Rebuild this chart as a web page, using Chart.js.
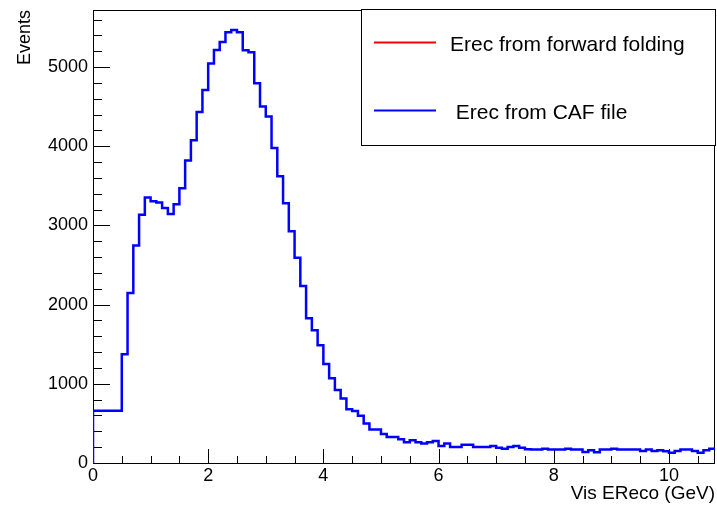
<!DOCTYPE html>
<html>
<head>
<meta charset="utf-8">
<script src="https://cdn.jsdelivr.net/npm/chart.js@4/dist/chart.umd.min.js"></script>
<style>
  html, body { margin: 0; padding: 0; background: #fff; }
  #c { display: block; }
</style>
</head>
<body>
<canvas id="c" width="717" height="505"></canvas>
<script>
// histogram binning: one wide bin 0-0.5, then 0.1 GeV bins up to 10.8
var firstBin = [0, 0.5];
var binWidth = 0.1;
var counts = [
  660,
  1373, 2147, 2745, 3136, 3351, 3304, 3288, 3220, 3144, 3266,
  3468, 3820, 4074, 4432, 4710, 5043, 5215, 5316, 5438, 5467,
  5438, 5211, 5186, 4794, 4500, 4374, 3977, 3620, 3279, 2925,
  2593, 2235, 1827, 1676, 1486, 1250, 1069, 922, 813, 678,
  657, 598, 500, 422, 422, 365, 328, 328, 299, 261,
  286, 261, 245, 261, 278, 215, 245, 202, 202, 232,
  232, 202, 202, 202, 215, 194, 181, 202, 215, 194,
  173, 169, 169, 181, 169, 169, 169, 181, 169, 169,
  139, 160, 135, 169, 169, 181, 169, 169, 169, 169,
  152, 169, 152, 160, 147, 131, 152, 169, 169, 152,
  131, 160, 181
];
var xTicks = [0, 2, 4, 6, 8, 10];
var yTicks = [0, 1000, 2000, 3000, 4000, 5000];
var seriesLabels = ["Erec from forward folding", " Erec from CAF file"];
var seriesColors = ["#ff0000", "#0000ff"];
var xTitle = "Vis EReco (GeV)";
var yTitle = "Events";

var FONT = "'Liberation Sans', Arial, Helvetica, sans-serif";

// bin edges
var edges = [firstBin[0], firstBin[1]];
for (var i = 1; i <= counts.length - 1; i++) {
  edges.push(Math.round((firstBin[1] + i * binWidth) * 10) / 10);
}

// outline points: each count at its bin's lower edge, drawn with
// stepped 'before' (horizontal first, then vertical)
var histPoints = [{x: edges[0], y: 0}];
for (var i = 0; i < counts.length; i++) {
  histPoints.push({x: edges[i], y: counts[i]});
}
histPoints.push({x: edges[counts.length], y: counts[counts.length - 1]});

// ROOT-like frame with inward ticks
var rootFrame = {
  id: 'rootFrame',
  beforeDatasetsDraw: function(chart) {
    var ctx = chart.ctx, a = chart.chartArea;
    var xs = chart.scales.x, ys = chart.scales.y;
    ctx.save();
    ctx.strokeStyle = '#000';
    ctx.lineWidth = 1;
    ctx.strokeRect(a.left + 0.5, a.top + 0.5, a.right - a.left - 1, a.bottom - a.top);
    ctx.beginPath();
    for (var v = 0; v <= xs.max + 1e-6; v += 0.5) {
      var px = Math.round(xs.getPixelForValue(v)) + 0.5;
      var len = (Math.abs(v % 2) < 1e-6) ? 14 : 7;
      ctx.moveTo(px, a.bottom);
      ctx.lineTo(px, a.bottom - len);
    }
    for (var w = 0; w <= ys.max; w += 200) {
      var py = Math.round(ys.getPixelForValue(w)) + 0.5;
      var len2 = (w % 1000 === 0) ? 17 : 9;
      ctx.moveTo(a.left, py);
      ctx.lineTo(a.left + len2, py);
    }
    ctx.stroke();
    ctx.restore();
  }
};

// ROOT-like legend box
var rootLegend = {
  id: 'rootLegend',
  afterDraw: function(chart) {
    var ctx = chart.ctx;
    var box = {l: 361.5, t: 9.5, r: 715.5, b: 145.5};
    ctx.save();
    ctx.fillStyle = '#fff';
    ctx.fillRect(box.l, box.t, box.r - box.l, box.b - box.t);
    ctx.strokeStyle = '#000';
    ctx.lineWidth = 1;
    ctx.strokeRect(box.l, box.t, box.r - box.l, box.b - box.t);
    var rows = [42.5, 110.5];
    chart.data.datasets.forEach(function(ds, k) {
      ctx.strokeStyle = ds.borderColor;
      ctx.lineWidth = 2;
      ctx.beginPath();
      ctx.moveTo(374, rows[k]);
      ctx.lineTo(436, rows[k]);
      ctx.stroke();
      ctx.fillStyle = '#000';
      ctx.font = '21px ' + FONT;
      ctx.textBaseline = 'alphabetic';
      ctx.textAlign = 'left';
      ctx.fillText(ds.label, 450, rows[k] + 8);
    });
    ctx.restore();
  }
};

var histChart = new Chart(document.getElementById('c'), {
  type: 'line',
  data: {
    datasets: [{
      label: seriesLabels[0],
      data: [],
      borderColor: seriesColors[0],
      borderWidth: 2,
      pointRadius: 0
    }, {
      label: seriesLabels[1],
      data: histPoints,
      stepped: 'before',
      borderColor: seriesColors[1],
      borderWidth: 2.5,
      pointRadius: 0,
      fill: false
    }]
  },
  options: {
    responsive: false,
    animation: false,
    events: [],
    layout: { padding: { left: 0, right: 2, top: 10, bottom: 0 } },
    plugins: { legend: { display: false }, tooltip: { enabled: false } },
    scales: {
      x: {
        type: 'linear',
        min: 0,
        max: 10.8,
        grid: { display: false, drawTicks: false },
        border: { display: false },
        afterBuildTicks: function(s) { s.ticks = xTicks.map(function(v) { return {value: v}; }); },
        ticks: { color: '#000', font: { family: FONT, size: 18 }, padding: 2, maxRotation: 0, autoSkip: false,
                 callback: function(v) { return String(v); } },
        title: { display: true, text: xTitle, align: 'end', color: '#000', font: { family: FONT, size: 19 }, padding: { top: 3, bottom: 0 } },
        afterFit: function(s) { s.height = 42; s.paddingLeft = 0; s.paddingRight = 0; }
      },
      y: {
        min: 0,
        max: 5720,
        grid: { display: false, drawTicks: false },
        border: { display: false },
        afterBuildTicks: function(s) { s.ticks = yTicks.map(function(v) { return {value: v}; }); },
        ticks: { color: '#000', font: { family: FONT, size: 18 }, padding: 5,
                 callback: function(v) { return String(v); } },
        title: { display: true, text: yTitle, align: 'end', color: '#000', font: { family: FONT, size: 18 }, padding: { top: 14, bottom: 0 } },
        afterFit: function(s) { s.width = 93; s.paddingTop = 0; s.paddingBottom = 0; }
      }
    }
  },
  plugins: [rootFrame, rootLegend]
});
</script>
</body>
</html>
